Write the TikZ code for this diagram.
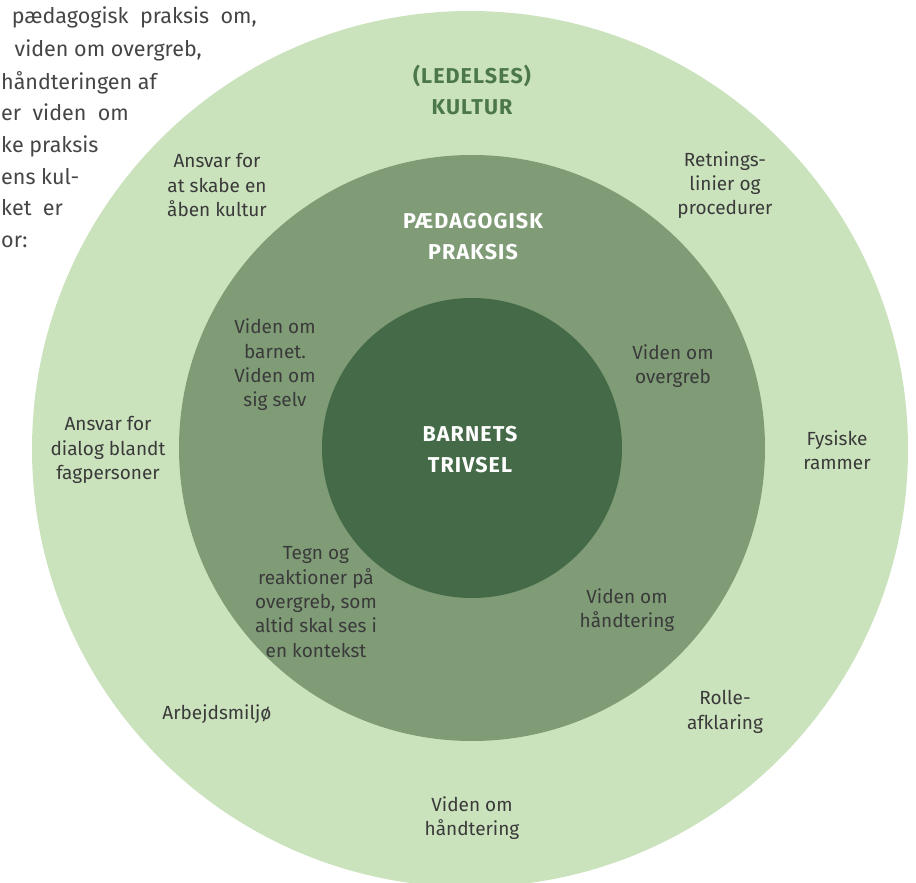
\documentclass[tikz,border=0pt]{standalone}
\usepackage{fontspec}
\setmainfont{Fira Sans}
\newfontfamily\headfont[LetterSpace=5]{Fira Sans}
\definecolor{outerg}{HTML}{CBE3BD}
\definecolor{midg}{HTML}{7F9C77}
\definecolor{innerg}{HTML}{446A47}
\definecolor{titleg}{HTML}{4C774C}
\definecolor{txt}{HTML}{3A3A3A}
\definecolor{ptxt}{HTML}{454545}
\begin{document}
\begin{tikzpicture}[x=1pt,y=-1pt,
  lbl/.style={align=center,text=txt,font=\fontsize{19}{24.3}\selectfont,inner sep=0pt},
  head/.style={align=center,font=\headfont\bfseries\fontsize{21.5}{31}\selectfont,inner sep=0pt},
  para/.style={anchor=base east,text=ptxt,font=\fontsize{21.5}{32}\selectfont,inner sep=0pt},
  paraw/.style={anchor=base west,text=ptxt,font=\fontsize{21.5}{32}\selectfont,inner sep=0pt}]
\useasboundingbox (0,0) rectangle (916,883);
\clip (0,0) rectangle (916,883);
\fill[outerg] (470,449) circle (438);
\fill[midg] (472,448) circle (293);
\fill[innerg] (472,448) circle (150);
% paragraph
\node[para] (p1) at (257,24) {\makebox[245pt][s]{pædagogisk praksis om,}};
\node[para] (p2) at (202,57) {viden om overgreb,};
\node[paraw] (p3) at (1,89) {håndteringen af};
\node[paraw] (p4) at (1,120) {er\ \ viden\ \ om};
\node[paraw] (p5) at (1,152) {ke praksis};
\node[paraw] (p6) at (1,184) {ens kul-};
\node[paraw] (p7) at (1,215) {ket\ \ er};
\node[paraw] (p8) at (1,247) {or:};
% headings
\node[head,text=titleg] (kultur) at (472,90) {(LEDELSES)\\KULTUR};
\node[head,text=white] (paed) at (473,237) {PÆDAGOGISK\\PRAKSIS};
\node[head,text=white] (barn) at (470,450) {BARNETS\\TRIVSEL};
% outer ring labels
\node[lbl] (a1) at (217,185) {Ansvar for\\at skabe en\\åben kultur};
\node[lbl] (a2) at (725,185) {Retnings-\\linier og\\procedurer};
\node[lbl] (a3) at (108,450) {Ansvar for\\dialog blandt\\fagpersoner};
\node[lbl] (a4) at (837,450) {Fysiske\\rammer};
\node[lbl] (a5) at (217,714) {Arbejdsmiljø};
\node[lbl] (a6) at (725,712) {Rolle-\\afklaring};
\node[lbl] (a7) at (472,818) {Viden om\\håndtering};
% middle ring labels
\node[lbl] (b1) at (275,365) {Viden om\\barnet.\\Viden om\\sig selv};
\node[lbl] (b2) at (673,366) {Viden om\\overgreb};
\node[lbl] (b3) at (316,602) {Tegn og\\reaktioner på\\overgreb, som\\altid skal ses i\\en kontekst};
\node[lbl] (b4) at (627,610) {Viden om\\håndtering};
\end{tikzpicture}
\end{document}
